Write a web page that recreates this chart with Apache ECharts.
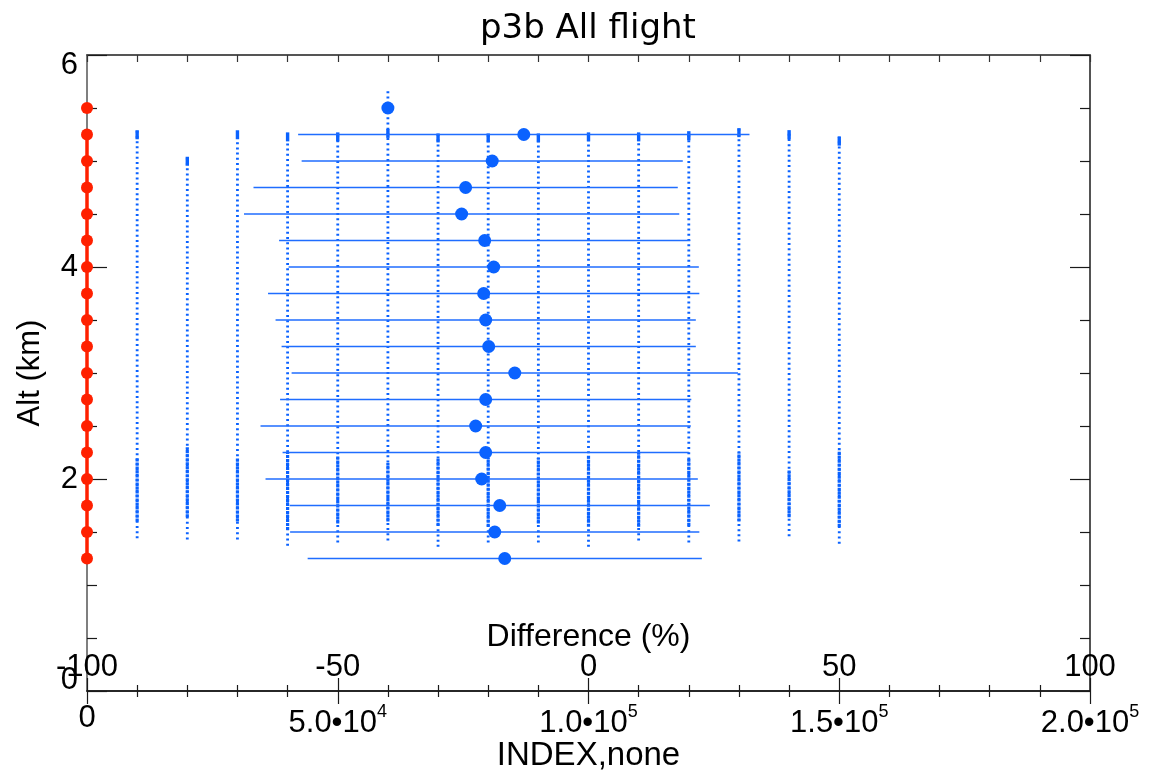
<!DOCTYPE html>
<html>
<head>
<meta charset="utf-8">
<script src="https://cdn.jsdelivr.net/npm/echarts@6/dist/echarts.min.js"></script>
<style>html,body{margin:0;padding:0;background:#fff}#c{width:1150px;height:775px}</style>
</head>
<body>
<div id="c"></div>
<script>
// ---- data ----
const altitudes = [1.25,1.5,1.75,2.0,2.25,2.5,2.75,3.0,3.25,3.5,3.75,4.0,4.25,4.5,4.75,5.0,5.25,5.5];
const redIndex  = [0,0,0,0,0,0,0,0,0,0,0,0,0,0,0,0,0,0];
const diffMean  = [-16.7,-18.7,-17.7,-21.3,-20.5,-22.5,-20.5,-14.7,-19.9,-20.5,-20.9,-18.9,-20.7,-25.3,-24.5,-19.2,-12.9,-40.0];
const diffErr   = [39.3,40.8,41.9,43.1,40.5,42.9,41.0,44.5,41.3,41.9,43.0,40.9,41.0,43.4,42.3,38.0,45.0,null];

const stripeIndex  = [10000,20000,30000,40000,50000,60000,70000,80000,90000,100000,110000,120000,130000,140000,150000];
const stripeBottom = [1.44,1.43,1.43,1.37,1.40,1.42,1.36,1.40,1.40,1.36,1.42,1.40,1.41,1.46,1.39];
const stripeTop    = [5.29,5.04,5.29,5.27,5.27,5.68,5.26,5.26,5.26,5.27,5.27,5.28,5.31,5.29,5.23];
const denseLow     = [1.60,1.64,1.60,1.52,1.58,1.60,1.56,1.55,1.58,1.55,1.55,1.56,1.60,1.64,1.55];
const denseHigh    = [2.20,2.30,2.20,2.25,2.22,2.15,2.20,2.20,2.20,2.22,2.25,2.20,2.25,2.08,2.27];

const indexTicks    = [0,50000,100000,150000,200000];
const indexTickMant = ['0','5.0','1.0','1.5','2.0'];
const indexTickExp  = ['','4','5','5','5'];
const diffTicks     = [-100,-50,0,50,100];
const altTicks      = [0,2,4,6];

// ---- styles ----
const FONT = 'Liberation Sans, Arial, Helvetica, sans-serif';
const TFONT = 'DejaVu Sans, Liberation Sans, sans-serif';
const BLUE = '#0a62ff';
const BAR = '#1f6dff';
const RED = '#ff2000';
const AX = '#1a1a1a';
const FS = 31;

const chart = echarts.init(document.getElementById('c'), null, {renderer:'canvas'});

function idxLabel(v){
  const i = indexTicks.indexOf(v);
  if (i < 0) return '';
  if (!indexTickExp[i]) return '{n|' + indexTickMant[i] + '}';
  return '{n|' + indexTickMant[i] + '•10}{s|' + indexTickExp[i] + '}';
}
function altLabel(v){
  if (altTicks.indexOf(v) < 0) return '';
  if (v === altTicks[altTicks.length-1]) return '{t|' + v + '}';
  if (v === altTicks[0]) return '{b|' + v + '}';
  return '{m|' + v + '}';
}

const stripeData = stripeIndex.map((x,i)=>[x, stripeBottom[i], stripeTop[i], denseLow[i], denseHigh[i]]);
const barData = altitudes.map((a,i)=> diffErr[i]==null ? null : [diffMean[i]-diffErr[i], diffMean[i]+diffErr[i], a]).filter(d=>d);

const option = {
  backgroundColor:'#fff',
  animation:false,
  title:{
    text:'p3b All flight', left:475, top:7,
    textStyle:{fontFamily:TFONT, fontSize:34, fontWeight:'normal', color:'#000'}
  },
  grid:{left:87, right:60, top:55, bottom:84, containLabel:false, outerBoundsMode:'none'},
  xAxis:[
    { // INDEX axis (bottom)
      type:'value', min:0, max:200000, interval:50000, position:'bottom',
      axisLine:{onZero:false, lineStyle:{color:AX, width:1.5}},
      axisTick:{inside:true, length:13, lineStyle:{color:AX, width:1.2}},
      minorTick:{show:true, splitNumber:5, length:6, lineStyle:{color:AX, width:1.2}},
      splitLine:{show:false},
      axisLabel:{formatter:idxLabel, margin:12, color:'#000',
        rich:{n:{fontFamily:FONT, fontSize:FS, color:'#000'}, s:{fontFamily:FONT, fontSize:18, color:'#000', padding:[0,0,22,0]}}},
      name:'INDEX,none', nameLocation:'middle', nameGap:48, nameMoveOverlap:false,
      nameTextStyle:{fontFamily:FONT, fontSize:33, color:'#000'}
    },
    { // Difference axis drawn at the bottom, labels above
      type:'value', min:-100, max:100, interval:50, position:'top', offset:-636,
      axisLine:{onZero:false, lineStyle:{color:AX, width:1.5}},
      axisTick:{inside:true, length:13, lineStyle:{color:AX, width:1.2}},
      minorTick:{show:true, splitNumber:5, length:6, lineStyle:{color:AX, width:1.2}},
      splitLine:{show:false},
      axisLabel:{margin:8, color:'#000', fontFamily:FONT, fontSize:FS,
        formatter:v=> diffTicks.indexOf(v)>=0 ? String(v) : ''},
      name:'Difference (%)', nameLocation:'middle', nameGap:38, nameMoveOverlap:false,
      nameTextStyle:{fontFamily:FONT, fontSize:32, color:'#000'}
    },
    { // top box axis
      type:'value', min:0, max:200000, interval:10000, position:'top',
      axisLine:{onZero:false, lineStyle:{color:'#555', width:2}},
      axisTick:{inside:true, length:7, lineStyle:{color:'#333', width:1.2}},
      axisLabel:{show:false}, splitLine:{show:false}
    }
  ],
  yAxis:[
    {
      type:'value', min:0, max:6, interval:2, position:'left',
      axisLine:{onZero:false, lineStyle:{color:'#555', width:1.5}},
      axisTick:{inside:true, length:20, lineStyle:{color:AX, width:1.2}},
      minorTick:{show:true, splitNumber:4, length:10, lineStyle:{color:AX, width:1.2}},
      splitLine:{show:false},
      axisLabel:{formatter:altLabel, margin:9,
        rich:{
          t:{fontFamily:FONT, fontSize:FS, color:'#000', padding:[20,0,0,0]},
          b:{fontFamily:FONT, fontSize:FS, color:'#000', padding:[0,0,22,0]},
          m:{fontFamily:FONT, fontSize:FS, color:'#000'}
        }},
      name:'Alt (km)', nameLocation:'middle', nameGap:41, nameRotate:90, nameMoveOverlap:false,
      nameTextStyle:{fontFamily:FONT, fontSize:31, color:'#000'}
    },
    {
      type:'value', min:0, max:6, interval:2, position:'right',
      axisLine:{onZero:false, lineStyle:{color:AX, width:1.5}},
      axisTick:{inside:true, length:20, lineStyle:{color:AX, width:1.2}},
      minorTick:{show:true, splitNumber:4, length:10, lineStyle:{color:AX, width:1.2}},
      splitLine:{show:false}, axisLabel:{show:false}
    }
  ],
  series:[
    {
      type:'custom', name:'stripes', xAxisIndex:0, yAxisIndex:0, clip:false,
      encode:{x:0, y:[1,2]},
      data:stripeData,
      renderItem:function(params, api){
        const x = api.value(0);
        const p0 = api.coord([x, api.value(1)]);
        const p1 = api.coord([x, api.value(2)]);
        const d0 = api.coord([x, api.value(3)]);
        const d1 = api.coord([x, api.value(4)]);
        const tall = api.value(2) > 5.5;
        return {type:'group', children:[
          {type:'line', shape:{x1:p0[0], y1:p0[1], x2:p1[0], y2:p1[1]},
            style:{stroke:BLUE, lineWidth:2.8, lineDash:[2,3.2]}},
          {type:'line', shape:{x1:d0[0], y1:d0[1], x2:d1[0], y2:d1[1]},
            style:{stroke:BLUE, lineWidth:3.2, lineDash:[3,1]}},
          {type:'line', shape:{x1:p1[0], y1:p1[1] + (tall?40:0), x2:p1[0], y2:p1[1] + (tall?49:9)},
            style:{stroke:BLUE, lineWidth:3.4}}
        ]};
      }
    },
    {
      type:'custom', name:'errbars', xAxisIndex:1, yAxisIndex:0, clip:false,
      encode:{x:[0,1], y:2},
      data:barData,
      renderItem:function(params, api){
        const a = api.coord([api.value(0), api.value(2)]);
        const b = api.coord([api.value(1), api.value(2)]);
        return {type:'line', shape:{x1:a[0], y1:a[1], x2:b[0], y2:b[1]},
          style:{stroke:BAR, lineWidth:1.4}};
      }
    },
    {
      type:'scatter', name:'mean', xAxisIndex:1, yAxisIndex:0,
      data:altitudes.map((a,i)=>[diffMean[i], a]),
      symbol:'circle', symbolSize:13, itemStyle:{color:BLUE, opacity:1}, clip:false
    },
    {
      type:'line', name:'redline', xAxisIndex:0, yAxisIndex:0, clip:false,
      data:altitudes.slice(0, altitudes.length-1).map((a,i)=>[redIndex[i], a]),
      showSymbol:false, symbol:'none', lineStyle:{color:RED, width:3.5}
    },
    {
      type:'scatter', name:'reddots', xAxisIndex:0, yAxisIndex:0, clip:false,
      data:altitudes.map((a,i)=>[redIndex[i], a]),
      symbol:'circle', symbolSize:12, itemStyle:{color:RED, opacity:1}
    }
  ]
};
chart.setOption(option);
</script>
</body>
</html>
